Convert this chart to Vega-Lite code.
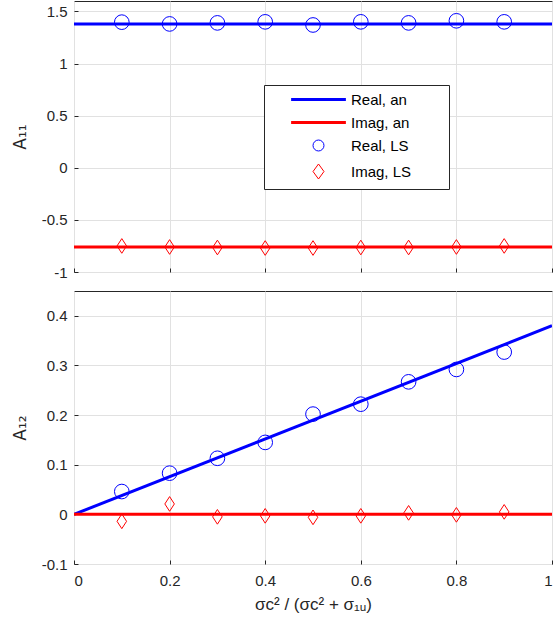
{
  "$schema": "https://vega.github.io/schema/vega-lite/v6.json",
  "background": "white",
  "padding": {"left": 10, "top": 0, "right": 0, "bottom": 0},
  "config": {
    "font": "Liberation Sans",
    "view": {"stroke": "#262626", "strokeWidth": 1},
    "axis": {
      "domain": false,
      "grid": true,
      "gridColor": "#e1e1e1",
      "gridWidth": 1,
      "ticks": true,
      "tickColor": "#262626",
      "tickSize": -4,
      "labelColor": "#262626",
      "labelFontSize": 15,
      "labelFont": "Liberation Sans",
      "titleColor": "#262626",
      "titleFontSize": 17,
      "titleFontWeight": "normal",
      "titleFont": "Liberation Sans"
    }
  },
  "datasets": {
    "a11_an": [
      {"series": "Real, an", "x": 0, "y": 1.38},
      {"series": "Real, an", "x": 1, "y": 1.38},
      {"series": "Imag, an", "x": 0, "y": -0.76},
      {"series": "Imag, an", "x": 1, "y": -0.76}
    ],
    "a11_ls": [
      {"series": "Real, LS", "x": 0.1, "y": 1.397},
      {"series": "Real, LS", "x": 0.2, "y": 1.38},
      {"series": "Real, LS", "x": 0.3, "y": 1.39},
      {"series": "Real, LS", "x": 0.4, "y": 1.4},
      {"series": "Real, LS", "x": 0.5, "y": 1.37},
      {"series": "Real, LS", "x": 0.6, "y": 1.4},
      {"series": "Real, LS", "x": 0.7, "y": 1.39},
      {"series": "Real, LS", "x": 0.8, "y": 1.41},
      {"series": "Real, LS", "x": 0.9, "y": 1.4},
      {"series": "Imag, LS", "x": 0.1, "y": -0.75},
      {"series": "Imag, LS", "x": 0.2, "y": -0.76},
      {"series": "Imag, LS", "x": 0.3, "y": -0.765},
      {"series": "Imag, LS", "x": 0.4, "y": -0.77},
      {"series": "Imag, LS", "x": 0.5, "y": -0.77},
      {"series": "Imag, LS", "x": 0.6, "y": -0.765},
      {"series": "Imag, LS", "x": 0.7, "y": -0.765},
      {"series": "Imag, LS", "x": 0.8, "y": -0.76},
      {"series": "Imag, LS", "x": 0.9, "y": -0.75}
    ],
    "a12_an": [
      {"series": "Real, an", "x": 0, "y": 0},
      {"series": "Real, an", "x": 1, "y": 0.38},
      {"series": "Imag, an", "x": 0, "y": 0},
      {"series": "Imag, an", "x": 1, "y": 0}
    ],
    "a12_ls": [
      {"series": "Real, LS", "x": 0.1, "y": 0.046},
      {"series": "Real, LS", "x": 0.2, "y": 0.083},
      {"series": "Real, LS", "x": 0.3, "y": 0.113},
      {"series": "Real, LS", "x": 0.4, "y": 0.145},
      {"series": "Real, LS", "x": 0.5, "y": 0.202},
      {"series": "Real, LS", "x": 0.6, "y": 0.222},
      {"series": "Real, LS", "x": 0.7, "y": 0.267},
      {"series": "Real, LS", "x": 0.8, "y": 0.292},
      {"series": "Real, LS", "x": 0.9, "y": 0.327},
      {"series": "Imag, LS", "x": 0.1, "y": -0.014},
      {"series": "Imag, LS", "x": 0.2, "y": 0.021},
      {"series": "Imag, LS", "x": 0.3, "y": -0.005},
      {"series": "Imag, LS", "x": 0.4, "y": -0.003},
      {"series": "Imag, LS", "x": 0.5, "y": -0.006},
      {"series": "Imag, LS", "x": 0.6, "y": -0.003},
      {"series": "Imag, LS", "x": 0.7, "y": 0.003},
      {"series": "Imag, LS", "x": 0.8, "y": -0.001},
      {"series": "Imag, LS", "x": 0.9, "y": 0.005}
    ]
  },
  "spacing": 9,
  "resolve": {"scale": {"color": "shared"}, "legend": {"color": "independent"}},
  "vconcat": [
    {
      "width": 478,
      "height": 271,
      "layer": [
        {
          "data": {"name": "a11_an"},
          "mark": {"type": "line", "strokeWidth": 3, "clip": true},
          "encoding": {
            "x": {"field": "x", "type": "quantitative", "scale": {"domain": [0, 1], "nice": false},
                  "axis": {"values": [0, 0.2, 0.4, 0.6, 0.8, 1], "labels": false, "title": null}},
            "y": {"field": "y", "type": "quantitative", "scale": {"domain": [-1, 1.6], "nice": false, "zero": false},
                  "axis": {"values": [-1, -0.5, 0, 0.5, 1, 1.5], "title": "A₁₁", "titleFont": "DejaVu Sans", "titleFontSize": 17, "labelExpr": "'' + datum.value", "labelPadding": 11, "titlePadding": 12}},
            "color": {
              "field": "series", "type": "nominal",
              "scale": {"domain": ["Real, an", "Imag, an", "Real, LS", "Imag, LS"], "range": ["#0000ff", "#ff0000", "#0000ff", "#ff0000"]},
              "legend": {
                "orient": "none", "legendX": 190, "legendY": 84,
                "title": null,
                "padding": 7,
                "strokeColor": "#262626",
                "fillColor": "white",
                "symbolSize": 120,
                "symbolOffset": 40,
                "labelFontSize": 15,
                "labelFont": "Liberation Sans",
                "labelColor": "#000000",
                "rowPadding": 7,
                "labelOffset": 25,
                "encode": {
                  "symbols": {
                    "update": {
                      "shape": {"signal": "test(/an$/, datum.value) ? 'M-5,0H5M21.4,0' : (datum.value == 'Real, LS' ? 'circle' : 'M0,-1.37L1,0L0,1.37L-1,0Z')"},
                      "stroke": {"signal": "test(/^Real/, datum.value) ? '#0000ff' : '#ff0000'"},
                      "strokeWidth": {"signal": "test(/an$/, datum.value) ? 3 : 1"},
                      "fill": {"value": "transparent"},
                      "size": {"value": 120},
                      "opacity": {"value": 1}
                    }
                  }
                }
              }
            }
          }
        },
        {
          "data": {"name": "a11_ls"},
          "mark": {"type": "point", "filled": false, "strokeWidth": 1, "size": 215, "opacity": 1},
          "encoding": {
            "x": {"field": "x", "type": "quantitative"},
            "y": {"field": "y", "type": "quantitative"},
            "color": {"field": "series", "type": "nominal"},
            "shape": {"field": "series", "type": "nominal",
                      "scale": {"domain": ["Real, LS", "Imag, LS"], "range": ["circle", "M0,-1L0.65,0L0,1L-0.65,0Z"]},
                      "legend": null}
          }
        }
      ]
    },
    {
      "width": 478,
      "height": 273,
      "layer": [
        {
          "data": {"name": "a12_an"},
          "mark": {"type": "line", "strokeWidth": 3, "clip": true},
          "encoding": {
            "x": {"field": "x", "type": "quantitative", "scale": {"domain": [0, 1], "nice": false},
                  "axis": {"values": [0, 0.2, 0.4, 0.6, 0.8, 1], "title": "σc² / (σc² + σ₁ᵤ)", "labelExpr": "'' + datum.value", "labelPadding": 13, "titlePadding": 8}},
            "y": {"field": "y", "type": "quantitative", "scale": {"domain": [-0.1, 0.45], "nice": false, "zero": false},
                  "axis": {"values": [-0.1, 0, 0.1, 0.2, 0.3, 0.4], "title": "A₁₂", "titleFont": "DejaVu Sans", "titleFontSize": 17, "labelExpr": "'' + datum.value", "labelPadding": 11, "titlePadding": 12}},
            "color": {"field": "series", "type": "nominal", "legend": null}
          }
        },
        {
          "data": {"name": "a12_ls"},
          "mark": {"type": "point", "filled": false, "strokeWidth": 1, "size": 215, "opacity": 1},
          "encoding": {
            "x": {"field": "x", "type": "quantitative"},
            "y": {"field": "y", "type": "quantitative"},
            "color": {"field": "series", "type": "nominal", "legend": null},
            "shape": {"field": "series", "type": "nominal",
                      "scale": {"domain": ["Real, LS", "Imag, LS"], "range": ["circle", "M0,-1L0.65,0L0,1L-0.65,0Z"]},
                      "legend": null}
          }
        }
      ]
    }
  ]
}
